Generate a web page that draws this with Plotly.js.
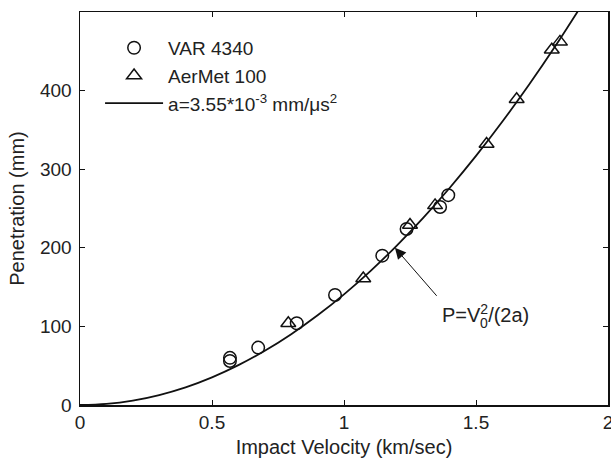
<!DOCTYPE html>
<html><head><meta charset="utf-8">
<script src="https://cdn.plot.ly/plotly-3.0.1.min.js"></script>
<style>body{margin:0;background:#fff;}</style></head>
<body><div id="chart" style="width:611px;height:466px;"></div>
<script>
// VAR 4340 (circles)
const var4340Velocity = [0.568, 0.568, 0.675, 0.821, 0.966, 1.145, 1.237, 1.364, 1.395];
const var4340Penetration = [60, 56, 73, 104, 140, 190, 224, 252, 267];
// AerMet 100 (triangles)
const aermetVelocity = [0.789, 1.073, 1.25, 1.345, 1.54, 1.654, 1.787, 1.818];
const aermetPenetration = [104, 161, 229, 254, 332, 389, 452, 462];
// Fitted curve a=3.55e-3 mm/us^2
const fitVelocity = [0, 0.1, 0.2, 0.3, 0.4, 0.5, 0.6, 0.7, 0.8, 0.9, 1.0, 1.1, 1.2, 1.3, 1.4, 1.5, 1.6, 1.7, 1.8, 1.9];
const fitPenetration = [0, 1.4, 5.6, 12.7, 22.5, 35.2, 50.7, 69.0, 90.1, 114.1, 140.8, 170.4, 202.8, 238.0, 276.1, 316.9, 360.6, 407.0, 456.3, 508.5];
const xTicks = [0, 0.5, 1, 1.5, 2];
const xTickLabels = ['0', '0.5', '1', '1.5', '2'];
const yTicks = [0, 100, 200, 300, 400];
const yTickLabels = ['0', '100', '200', '300', '400'];

const FONT = 'Liberation Sans, Arial, Helvetica, sans-serif';
const TXT = '#222';

const traces = [
  {x: var4340Velocity, y: var4340Penetration, mode: 'markers', type: 'scatter', name: 'VAR 4340',
   marker: {symbol: 'circle-open', size: 12.5, color: '#111', line: {width: 1.5, color: '#111'}}},
  {x: aermetVelocity, y: aermetPenetration, mode: 'markers', type: 'scatter', name: 'AerMet 100',
   marker: {symbol: 'triangle-up-open', size: 13, color: '#111', line: {width: 1.5, color: '#111'}}},
  {x: fitVelocity, y: fitPenetration, mode: 'lines', type: 'scatter', name: 'a=3.55*10<sup>-3</sup> mm/\u03bcs<sup>2</sup>',
   line: {color: '#111', width: 1.8, shape: 'spline'}}
];

const axisCommon = {
  showgrid: false, zeroline: false, showline: true, linecolor: '#111', linewidth: 1.5,
  mirror: 'ticks', ticks: 'inside', ticklen: 5, tickwidth: 1, tickcolor: '#111',
  ticklabeloverflow: 'allow',
  tickfont: {family: FONT, size: 19, color: TXT}
};

const layout = {
  width: 611, height: 466,
  margin: {l: 80, r: 3, t: 12, b: 61},
  paper_bgcolor: '#fff', plot_bgcolor: '#fff',
  font: {family: FONT, size: 19, color: TXT},
  showlegend: true,
  legend: {x: 0.038, y: 0.957, xanchor: 'left', yanchor: 'top', bgcolor: 'rgba(0,0,0,0)',
           font: {family: FONT, size: 19, color: TXT}, tracegroupgap: 0, itemwidth: 58},
  xaxis: Object.assign({}, axisCommon, {range: [0, 2], tickvals: xTicks, ticktext: xTickLabels,
    title: {text: 'Impact Velocity (km/sec)', font: {family: FONT, size: 20, color: TXT}, standoff: 7}}),
  yaxis: Object.assign({}, axisCommon, {range: [0, 500], tickvals: yTicks, ticktext: yTickLabels,
    ticklabelstandoff: 3,
    title: {text: 'Penetration (mm)', font: {family: FONT, size: 20, color: TXT}, standoff: 10}}),
  annotations: [
    {x: 1.193, y: 200, ax: 1.356, ay: 137, xref: 'x', yref: 'y', axref: 'x', ayref: 'y',
     text: '', showarrow: true, arrowhead: 2, arrowsize: 2.2, arrowwidth: 1, arrowcolor: '#111'},
    {x: 1.364, y: 117, xref: 'x', yref: 'y', xanchor: 'left', yanchor: 'middle', showarrow: false,
     text: 'P=V<sup>2</sup>/(2a)', font: {family: FONT, size: 20, color: TXT}},
    {x: 1.507, y: 104, xref: 'x', yref: 'y', xanchor: 'left', yanchor: 'middle', showarrow: false,
     text: '0', font: {family: FONT, size: 14, color: TXT}}
  ]
};

Plotly.newPlot('chart', traces, layout, {displayModeBar: false, staticPlot: true});
</script>
</body></html>
